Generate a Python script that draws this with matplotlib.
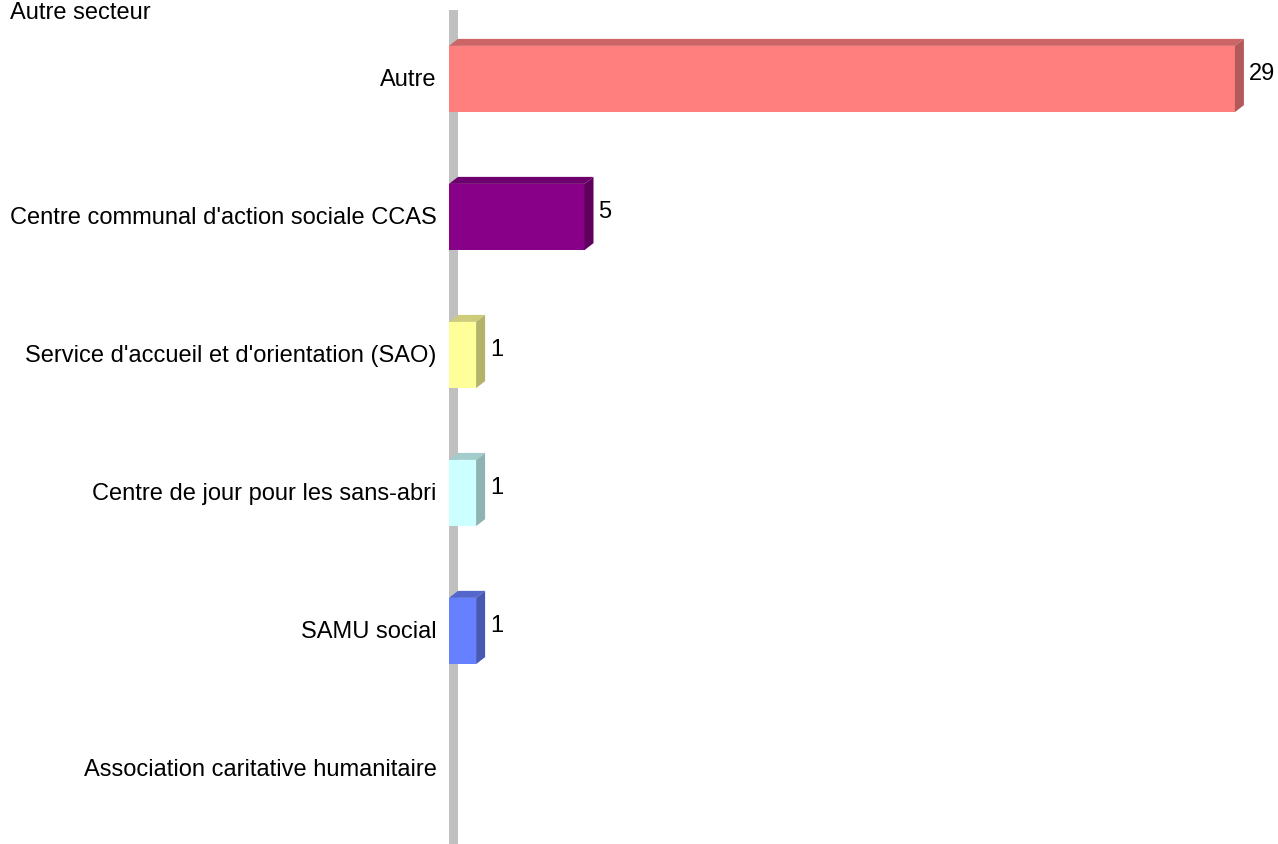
import matplotlib.pyplot as plt
from matplotlib.patches import Polygon, Rectangle

# Data
categories = [
    "Autre",
    "Centre communal d'action sociale CCAS",
    "Service d'accueil et d'orientation (SAO)",
    "Centre de jour pour les sans-abri",
    "SAMU social",
    "Association caritative humanitaire",
]
values = [29, 5, 1, 1, 1, 0]
front_colors = ["#FF7F7F", "#880088", "#FFFF99", "#CCFFFF", "#6680FF", "#FFFFFF"]
top_colors = ["#CC6666", "#6D006D", "#CCCC7A", "#A3CCCC", "#5266CC", "#FFFFFF"]
side_colors = ["#B35959", "#5F005F", "#B3B36B", "#8FB3B3", "#4759B3", "#FFFFFF"]
title = "Autre secteur"

plt.rcParams["font.family"] = ["Liberation Sans", "DejaVu Sans"]
FS = 17

W, H = 1278, 845
fig = plt.figure(figsize=(W / 100, H / 100), dpi=100)

# axes mapped so value 0 sits at x=449 px, categories every 138 px from y=80
px_per_unit = 27.1
x0_px = 449
ax = fig.add_axes([x0_px / W, 0, 1 - x0_px / W, 1])
ax.set_xlim(0, (W - x0_px) / px_per_unit)
ax.set_ylim((H - 80) / 138, -80 / 138)
ax.axis("off")

dx = 9 / px_per_unit  # depth in x
dy = 7 / 138          # depth in y (upwards)
bar_h = 0.48

# gray wall
ax.add_patch(Rectangle((0, -0.5), dx, 6.05, facecolor="#C0C0C0", edgecolor="none", zorder=1))

for i, (cat, v) in enumerate(zip(categories, values)):
    top = i - bar_h / 2
    bot = i + bar_h / 2
    if v > 0:
        ax.barh(i, v, height=bar_h, color=front_colors[i], zorder=3)
        ax.add_patch(Polygon([(0, top), (dx, top - dy), (v + dx, top - dy), (v, top)],
                             closed=True, facecolor=top_colors[i], edgecolor="none", zorder=3))
        ax.add_patch(Polygon([(v, top), (v + dx, top - dy), (v + dx, bot - dy), (v, bot)],
                             closed=True, facecolor=side_colors[i], edgecolor="none", zorder=3))
        ax.annotate(str(v), (v, i), xytext=(10, 4), textcoords="offset points",
                    ha="left", va="center", fontsize=FS)
    ax.annotate(cat, (0, i), xytext=(-9, 0), textcoords="offset points",
                ha="right", va="center", fontsize=FS, annotation_clip=False)

fig.text(10 / W, 1 - 2 / H, title, ha="left", va="top", fontsize=FS)

plt.savefig("out.png", dpi=100)
